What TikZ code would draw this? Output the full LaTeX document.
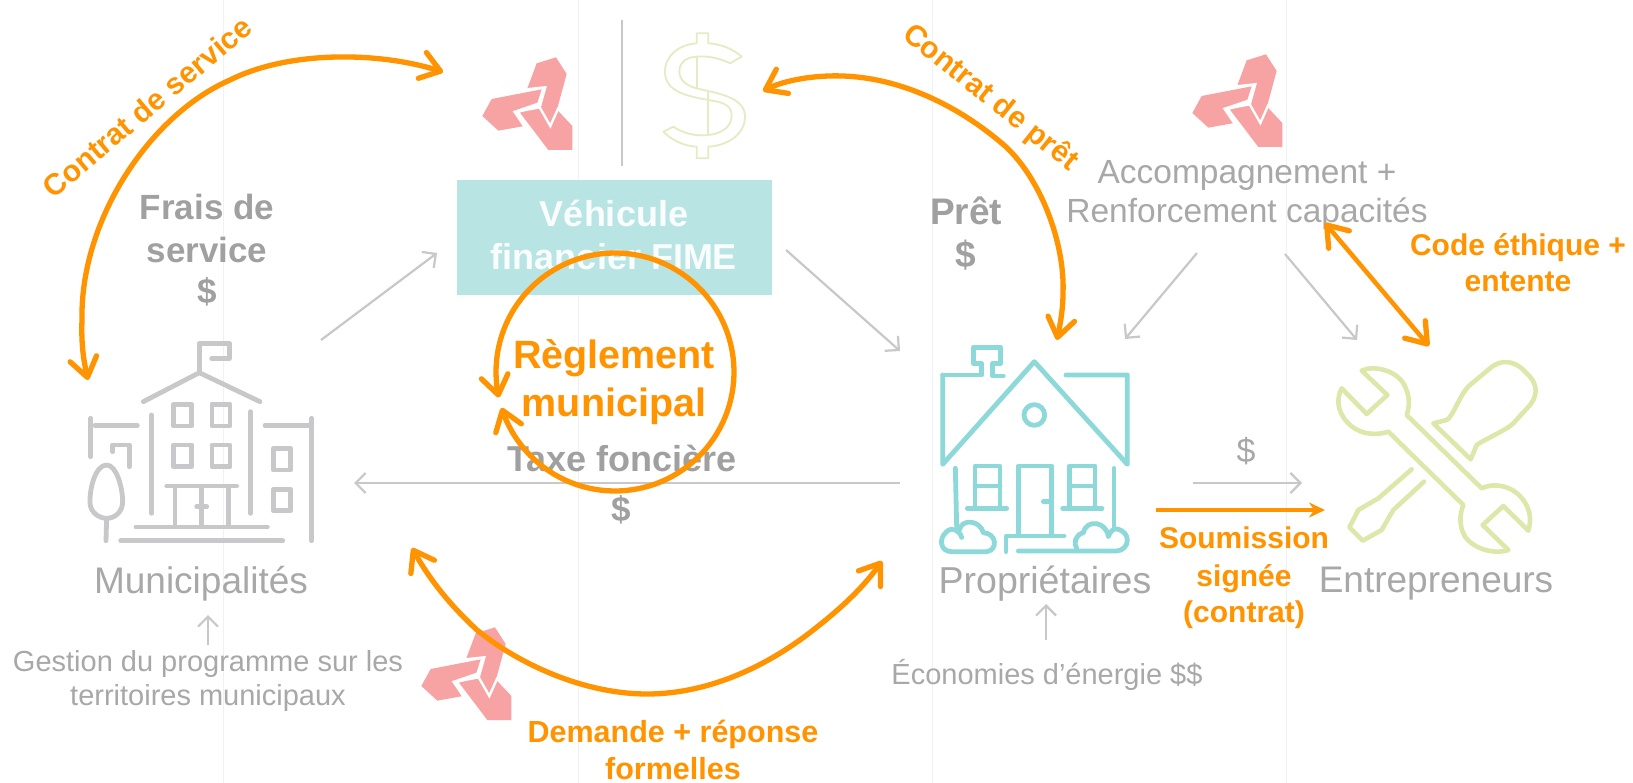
\documentclass[tikz,border=0pt]{standalone}
\usepackage{fontspec}
\setmainfont{Liberation Sans}
\usetikzlibrary{arrows.meta}
\definecolor{orng}{HTML}{FF9300}
\definecolor{lightgray}{HTML}{A8A8A8}
\definecolor{boldgray}{HTML}{A0A0A0}
\definecolor{linegray}{HTML}{C8C8CA}
\definecolor{iconteal}{HTML}{8DD8D8}
\definecolor{boxteal}{HTML}{B9E4E4}
\definecolor{icongreen}{HTML}{DDE7A9}
\definecolor{dollargreen}{HTML}{E3ECC3}
\definecolor{logored}{HTML}{F8A3A3}
\definecolor{faint}{HTML}{F1F1F3}
\newcommand{\fs}[1]{\fontsize{#1}{#1}\selectfont}
\tikzset{
  grayarrow/.style={draw=linegray,line width=2.2pt,-{Straight Barb[length=10pt,width=20pt,line width=2.2pt]}},
  orangearc/.style={draw=orng,line width=5.3pt,{Straight Barb[length=19pt,width=27pt,line width=5.3pt,round]}-{Straight Barb[length=19pt,width=27pt,line width=5.3pt,round]}},
  lighttext/.style={inner sep=0pt,align=center,text=lightgray},
  boldtext/.style={inner sep=0pt,align=center,text=boldgray,font=\bfseries\fs{35}},
  orangetext/.style={inner sep=0pt,align=center,text=orng,font=\bfseries\fs{30}},
  iconline/.style={line width=4.8pt,line cap=round,line join=round},
  logo/.pic={
    \begin{scope}[scale=1/3]
      \fill[logored] (262,265) -- (290,190) -- (348,172) -- (380,222) -- (352,325) -- (330,378) -- (300,325) -- (318,262) -- cycle;
      \fill[logored] (127,348) -- (155,297) -- (305,268) -- (292,308) -- (222,332) -- (253,378) -- (175,392) -- cycle;
      \fill[logored] (240,338) -- (298,320) -- (330,378) -- (352,330) -- (397,378) -- (397,450) -- (325,450) -- cycle;
      \draw[white,line width=2.4pt] (258,268) -- (316,262) -- (299,322) -- (331,378) -- (356,322);
      \draw[white,line width=2.4pt] (299,322) -- (224,336) -- (255,382);
    \end{scope}
  }
}
\begin{document}
\begin{tikzpicture}[x=1pt,y=-1pt]
\useasboundingbox (0,0) rectangle (1633,783);
\fill[white] (0,0) rectangle (1633,783);
% faint columns
\foreach \xx in {223,578,932,1286} \draw[faint,line width=1pt] (\xx,0) -- (\xx,783);

% coordinates of connector ends
\coordinate (mairieOut) at (321,340);
\coordinate (fimeIn) at (437,253);
\coordinate (fimeOut) at (786,250);
\coordinate (maisonIn) at (900,351);
\coordinate (taxeStart) at (900,483);
\coordinate (mairieIn) at (354,483);
\coordinate (accG) at (1197,253);
\coordinate (accGend) at (1125,339);
\coordinate (accD) at (1285,254);
\coordinate (accDend) at (1357,340);
\coordinate (dolStart) at (1193,483);
\coordinate (dolEnd) at (1302,483);
\coordinate (gestUp) at (208,645);
\coordinate (gestTip) at (208,615);
\coordinate (ecoUp) at (1046,640);
\coordinate (ecoTip) at (1046,604);
\coordinate (sepTop) at (622,20);
\coordinate (sepBot) at (622,166);

% logos and dollar
\pic at (440,0) {logo};
\pic at (1150,-3) {logo};
\pic at (379,570) {logo};
\draw[linegray,line width=2pt] (sepTop) -- (sepBot);
\begin{scope}[shift={(440,0)},scale=1/3,dollargreen,line width=1.8pt,line join=round]
  \draw (770,130) -- (770,100) -- (805,100) -- (805,130) .. controls (845,132) and (880,148) .. (905,170) -- (870,190) .. controls (840,175) and (805,167) .. (770,170) .. controls (735,172) and (718,190) .. (718,215) .. controls (718,240) and (740,258) .. (770,265) .. controls (830,280) and (915,290) .. (915,350) .. controls (915,405) and (860,437) .. (805,440) -- (805,475) -- (770,475) -- (770,440) .. controls (730,438) and (695,420) .. (670,395) -- (700,380) .. controls (725,398) and (765,410) .. (805,405) .. controls (850,400) and (875,378) .. (875,345) .. controls (875,310) and (835,305) .. (805,300) .. controls (740,288) and (675,275) .. (675,215) .. controls (675,165) and (720,133) .. (770,130);
  \draw (770,170) -- (770,265);
  \draw (805,272) -- (805,405);
\end{scope}

% financing box
\node[fill=boxteal,minimum width=315pt,minimum height=115pt,inner sep=0pt] (boite) at (614.5,237.5) {};
\node[inner sep=0pt,align=center,text=white!92!boxteal,font=\bfseries\fs{36}] (vehicule) at (614,235) {Véhicule\\[7pt]financier FIME};

% building
\begin{scope}[shift={(60,300)},scale=1/3,draw=linegray,iconline]
  \draw (418,215) -- (418,130) -- (508,130) -- (508,175) -- (455,175);
  \draw (250,305) -- (418,218) -- (600,305);
  \draw (275,345) -- (275,640);
  \draw (572,335) -- (572,640);
  \draw (341,313) rectangle (395,378);
  \draw (456,313) rectangle (510,378);
  \draw (341,435) rectangle (395,500);
  \draw (456,435) rectangle (510,500);
  \draw (640,445) rectangle (692,510);
  \draw (640,568) rectangle (692,632);
  \draw (92,355) -- (92,470);
  \draw (105,377) -- (232,377);
  \draw (158,455) -- (158,435) -- (208,435) -- (208,500);
  \draw (615,377) -- (755,377);
  \draw (755,355) -- (755,722);
  \draw (140,495) .. controls (105,495) and (88,570) .. (90,610) .. controls (92,640) and (120,655) .. (140,655) .. controls (165,655) and (188,635) .. (188,605) .. controls (188,565) and (170,495) .. cycle;
  \draw (140,655) -- (138,722);
  \draw (320,558) -- (530,558);
  \draw (345,560) -- (345,680);
  \draw (505,560) -- (505,680);
  \draw (425,565) -- (425,680);
  \draw (410,620) -- (440,620);
  \draw (228,681) -- (622,681);
  \draw (182,722) -- (668,722);
\end{scope}

% house
\begin{scope}[shift={(920,330)},scale=1/3,draw=iconteal,iconline]
  \draw (68,135) -- (185,135) -- (185,100) -- (160,100) -- (160,52) -- (242,52) -- (242,100) -- (218,100) -- (218,138) -- (250,138);
  \draw (68,135) -- (68,403) -- (343,95) -- (622,403) -- (622,135) -- (438,135);
  \draw (343,255) circle[radius=31];
  \draw (106,415) -- (110,590);
  \draw (582,415) -- (582,590);
  \draw (165,530) -- (165,408) -- (240,408) -- (240,530);
  \draw (165,468) -- (240,468);
  \draw (142,535) -- (260,535);
  \draw (448,530) -- (448,408) -- (525,408) -- (525,530);
  \draw (448,468) -- (525,468);
  \draw (428,535) -- (546,535);
  \draw (295,610) -- (295,408) -- (395,408) -- (395,610);
  \draw (370,515) -- (385,515);
  \draw (258,665) -- (258,618) -- (432,618);
  \draw (125,622) .. controls (118,600) and (95,590) .. (80,605) .. controls (55,625) and (60,665) .. (95,665) -- (200,665) .. controls (235,660) and (230,610) .. (190,608) .. controls (180,570) and (125,565) .. (118,600);
  \draw (295,663) -- (590,663) .. controls (630,660) and (635,605) .. (590,597) .. controls (580,595) and (570,605) .. (565,620) .. controls (560,575) and (500,565) .. (490,608) .. controls (465,615) and (460,640) .. (470,655);
\end{scope}

% tools
\begin{scope}[shift={(1310,340)},scale=1/3,draw=icongreen,iconline,line width=4.6pt]
  \draw (155,92) .. controls (190,75) and (255,90) .. (280,130) .. controls (300,165) and (300,195) .. (290,225) -- (515,445) .. controls (560,425) and (610,440) .. (640,480) .. controls (665,515) and (662,545) .. (655,572) -- (580,498) -- (518,555) -- (595,630) .. controls (550,645) and (490,625) .. (465,590) .. controls (445,555) and (450,520) .. (460,495) -- (235,275) .. controls (190,290) and (140,280) .. (110,245) .. controls (80,210) and (80,175) .. (95,145) -- (170,222) -- (232,165) -- cycle;
  \draw (370,250) -- (410,240) .. controls (430,230) and (450,160) .. (480,135) -- (540,85) .. controls (575,55) and (610,65) .. (635,85) -- (660,110) .. controls (685,140) and (680,170) .. (660,195) -- (610,250) .. controls (590,270) and (520,300) .. (500,315) -- (482,358) -- cycle;
  \draw (305,388) -- (205,475) -- (145,510) -- (118,562) -- (158,602) -- (215,570) -- (250,510) -- (342,425);
\end{scope}

% gray labels
\node[boldtext] (frais) at (207,250) {Frais de\\[8pt]service\\[6pt]\$};
\node[boldtext,font=\bfseries\fs{37}] (pret) at (966,234) {Prêt\\[6pt]\$};
\node[boldtext,font=\bfseries\fs{36}] (taxe) at (622,458) {Taxe foncière};
\node[boldtext] (taxedollar) at (621,510) {\$};
\node[lighttext,font=\fs{33.5}] (accomp) at (1247,195) {Accompagnement +\\[5pt]Renforcement capacités};
\node[lighttext,font=\fs{37}] (munic) at (201,584) {Municipalités};
\node[lighttext,font=\fs{37.5}] (prop) at (1045,584) {Propriétaires};
\node[lighttext,font=\fs{37}] (entre) at (1436,584) {Entrepreneurs};
\node[lighttext,font=\fs{29}] (gestion) at (208,681) {Gestion du programme sur les\\[5pt]territoires municipaux};
\node[lighttext,font=\fs{29}] (eco) at (1047,675) {Économies d’énergie \$\$};
\node[lighttext,font=\fs{34}] (pay) at (1246,451) {\$};

% gray arrows
\draw[grayarrow] (mairieOut) -- (fimeIn);
\draw[grayarrow] (fimeOut) -- (maisonIn);
\draw[grayarrow] (taxeStart) -- (mairieIn);
\draw[grayarrow] (accG) -- (accGend);
\draw[grayarrow] (accD) -- (accDend);
\draw[grayarrow] (dolStart) -- (dolEnd);
\draw[grayarrow] (gestUp) -- (gestTip);
\draw[grayarrow] (ecoUp) -- (ecoTip);

% orange arcs
\coordinate (servA) at (443,72);
\coordinate (servB) at (88,380);
\coordinate (pretA) at (763,91);
\coordinate (pretB) at (1057,340);
\coordinate (demA) at (412,548);
\coordinate (demB) at (882,561);
\coordinate (codeA) at (1325,223);
\coordinate (codeB) at (1429,346);
\coordinate (soumA) at (1156,510);
\coordinate (soumB) at (1325,510);
\draw[orangearc] (servA) .. controls (380,52) and (290,50) .. (230,80) .. controls (150,115) and (80,220) .. (82,320) .. controls (81,345) and (84,362) .. (servB);
\draw[orangearc] (pretA) .. controls (785,80) and (815,75) .. (843,76) .. controls (900,78) and (958,105) .. (1005,146) .. controls (1042,180) and (1065,245) .. (1063,293) .. controls (1063,310) and (1060,325) .. (pretB);
\draw[orangearc] (demA) .. controls (430,580) and (450,605) .. (477,630) .. controls (520,665) and (585,694) .. (647,694) .. controls (710,694) and (770,665) .. (817,627) .. controls (845,605) and (865,585) .. (demB);
\draw[orangearc,line width=4.5pt] (codeA) -- (codeB);
\draw[orng,line width=3.5pt,-{Stealth[length=16pt,width=15pt]}] (soumA) -- (soumB);
\draw[orangearc] plot[domain=162.5:-192.4,samples=120] ({615+119*cos(\x)},{372+119*sin(\x)});

% orange labels
\node[orangetext,font=\bfseries\fs{39.5}] (regl) at (614,382) {Règlement\\[9pt]municipal};
\node[orangetext,rotate=40] (cserv) at (147,107) {Contrat de service};
\node[orangetext,rotate=-38.7] (cpret) at (990,98) {Contrat de prêt};
\node[orangetext] (code) at (1518,263) {Code éthique +\\[6pt]entente};
\node[orangetext] (soum) at (1244,578) {Soumission\\[8pt]signée\\[6pt](contrat)};
\node[orangetext,font=\bfseries\fs{30.5}] (dem) at (673,750) {Demande + réponse\\[6pt]formelles};
\end{tikzpicture}
\end{document}
